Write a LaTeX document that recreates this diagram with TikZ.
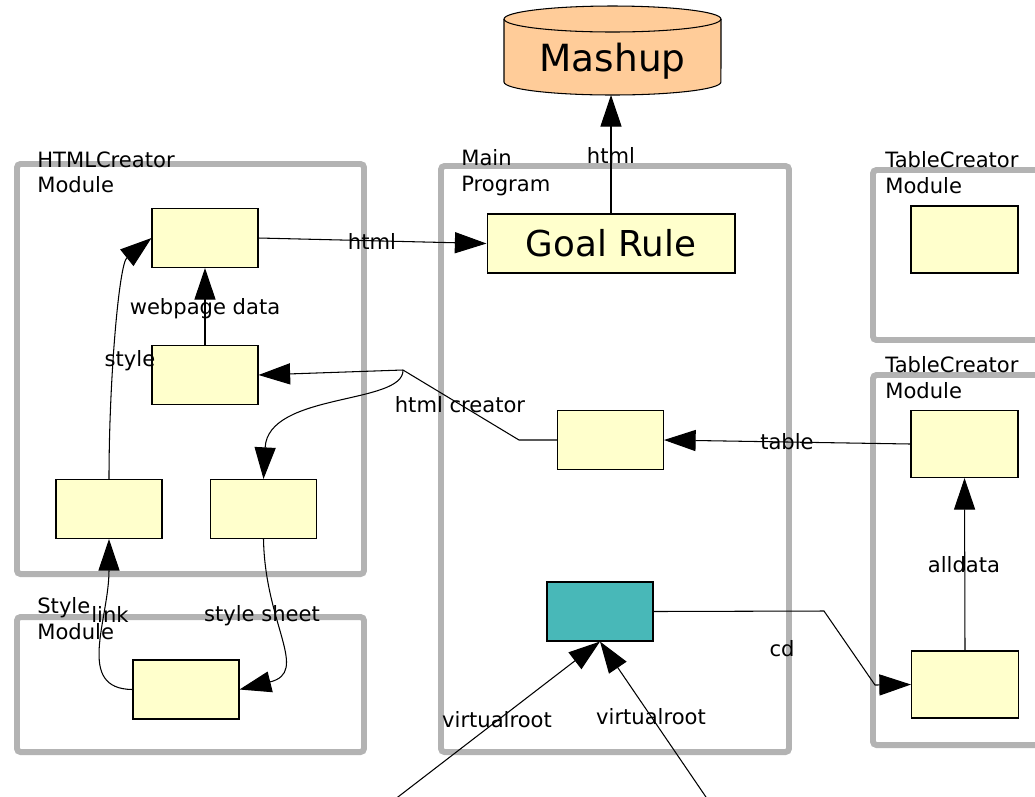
\documentclass[tikz,border=0pt]{standalone}
\usepackage{fontspec}
\setmainfont{DejaVu Sans}
\usepackage{tikz}
\usetikzlibrary{arrows.meta}

\definecolor{framegray}{HTML}{B3B3B3}
\definecolor{blockyellow}{HTML}{FFFFCC}
\definecolor{rootteal}{HTML}{48B8B8}
\definecolor{mashpeach}{HTML}{FFCC99}

\begin{document}
\begin{tikzpicture}[x=0.02cm, y=-0.02cm, font=\fontsize{12}{14.7}\selectfont,
    module/.style={draw=framegray, line width=3.4pt, rounded corners=2pt},
    modname/.style={anchor=north west, inner sep=0pt, align=left},
    block/.style={draw, fill=blockyellow, line width=0.6pt, minimum width=2.12cm, minimum height=1.18cm, inner sep=0pt},
    tblock/.style={block, minimum width=2.14cm, minimum height=1.34cm},
    flow/.style={line width=0.6pt, -{Triangle[length=18pt,width=12pt]}},
    wire/.style={line width=0.6pt},
    lbl/.style={inner sep=0pt}]
    \useasboundingbox (0,0) rectangle (1035,796);

    % Module frames
    \draw[module] (17,164) rectangle (364,574);
    \draw[module] (17,617) rectangle (364,752);
    \draw[module] (441,166) rectangle (789,752);
    \draw[module] (873,170) rectangle (1050,340);
    \draw[module] (873,375) rectangle (1050,745);

    % Module names
    \node[modname] (nhtml) at (37,151) {HTMLCreator\\Module};
    \node[modname] (nstyle) at (37,597) {Style\\Module};
    \node[modname] (nmain) at (461,149) {Main\\Program};
    \node[modname] (ntabA) at (885,151) {TableCreator\\Module};
    \node[modname] (ntabB) at (885,356) {TableCreator\\Module};

    % Mashup cylinder
    \fill[mashpeach] (504,19) -- (504,82) arc[start angle=180, end angle=360, x radius=2.17cm, y radius=0.26cm]
        -- (721,19) arc[start angle=0, end angle=180, x radius=2.17cm, y radius=0.26cm] -- cycle;
    \draw[wire] (504,19) -- (504,82) arc[start angle=180, end angle=360, x radius=2.17cm, y radius=0.26cm] -- (721,19);
    \draw[wire] (612.5,19) ellipse [x radius=2.17cm, y radius=0.26cm];
    \node (mashup) at (612.5,61) {\fontsize{21.3}{25}\selectfont Mashup};
    \coordinate (mashbase) at (611,95);

    % HTMLCreator blocks
    \node[block] (wp) at (205,238) {};
    \node[block] (sty) at (205,375) {};
    \node[block] (lnk) at (109,509) {};
    \node[block] (sh) at (263.5,509) {};

    % Style block
    \node[block] (sbox) at (186,689.5) {};

    % Main program blocks
    \node[block, minimum width=4.96cm] (goal) at (611,243.5) {\fontsize{20.3}{24}\selectfont Goal Rule};
    \node[block] (mid) at (610.5,440) {};
    \node[block, fill=rootteal] (vroot) at (600,611.5) {};

    % TableCreator blocks
    \node[tblock] (tc1) at (964.5,239.5) {};
    \node[tblock] (tc2) at (964.5,444) {};
    \node[tblock] (tc3) at (965,684.5) {};

    % Connectors
    \draw[flow] (goal.north) -- (mashbase);
    \draw[flow] (wp.east) -- (goal.west);
    \draw[flow] (sty.north) -- (wp.south);
    \draw[flow] (lnk.north) .. controls (109,380) and (119,264) .. (wp.west);
    \draw[flow] (sbox.west) .. controls (75,689) and (109,620) .. (lnk.south);
    \draw[flow] (sh.south) .. controls (265,625) and (310,672) .. (sbox.east);

    \coordinate (split) at (403,370);
    \coordinate (knee) at (519,440);
    \draw[wire] (mid.west) -- (knee) -- (split);
    \draw[flow] (split) -- (sty.east);
    \draw[flow] (split) .. controls (404,405) and (268,392) .. (sh.north);

    \draw[flow] (tc2.west) -- (mid.east);
    \draw[flow] (tc3.north) -- (tc2.south);

    \coordinate (cdA) at (824,611);
    \coordinate (cdB) at (875,685);
    \draw[flow] (vroot.east) -- (cdA) -- (cdB) -- (tc3.west);

    \coordinate (rootA) at (394,800);
    \coordinate (rootB) at (708,800);
    \draw[flow] (rootA) -- (vroot.south);
    \draw[flow] (rootB) -- (vroot.south);

    % Labels
    \node[lbl] (lhtmlA) at (372,241) {html};
    \node[lbl] (lhtmlB) at (611,155) {html};
    \node[lbl] (lweb) at (205,309) {webpage data};
    \node[lbl] (lstyle) at (130,361) {style};
    \node[lbl] (lcreator) at (460,405) {html creator};
    \node[lbl] (ltable) at (787,442) {table};
    \node[lbl] (lall) at (964,565) {alldata};
    \node[lbl] (lcd) at (782,649) {cd};
    \node[lbl] (llink) at (110,614) {link};
    \node[lbl] (lsheet) at (262,616) {style sheet};
    \node[lbl] (lrootA) at (497,720) {virtualroot};
    \node[lbl] (lrootB) at (651,717) {virtualroot};

\end{tikzpicture}
\end{document}
